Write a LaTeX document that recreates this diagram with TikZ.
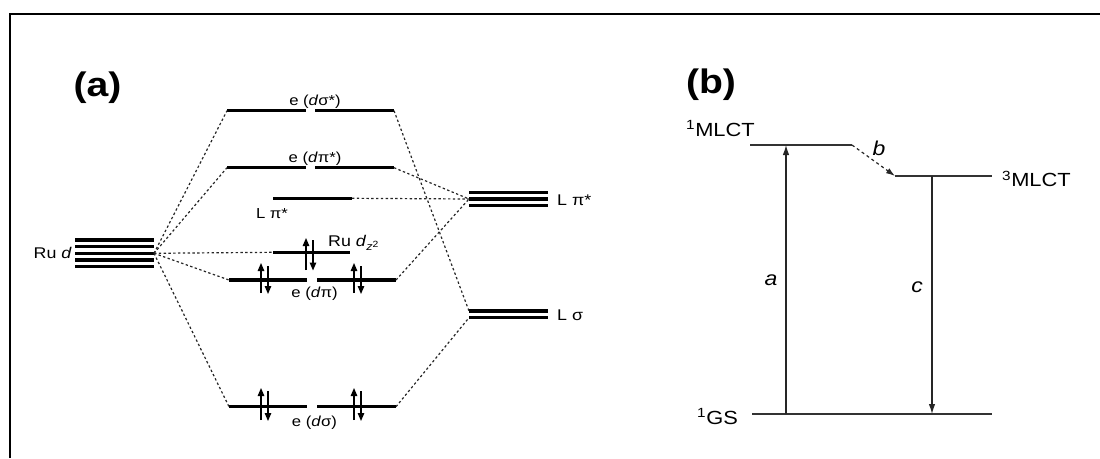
\documentclass[tikz,border=0pt]{standalone}
\usepackage{fontspec}
\setmainfont{Liberation Sans}
\usepackage{graphicx}
\usetikzlibrary{arrows.meta}
\newcommand{\hs}[1]{\scalebox{1.15}[1]{#1}}
\newcommand{\fs}[1]{\fontsize{#1}{#1}\selectfont}
\begin{document}
\begin{tikzpicture}[x=1pt,y=-1pt,
  lvl/.style={line width=3.4pt},
  conn/.style={line width=1.2pt, dash pattern=on 2.4pt off 2.4pt, black!85},
  spin/.style={line width=1.3pt, -{Triangle[length=8pt,width=6.5pt]}},
  lab/.style={inner sep=0pt, font=\fs{14.5}},
  big/.style={inner sep=0pt, font=\fs{19}},
  tlet/.style={inner sep=0pt, font=\fs{20}\itshape},
  head/.style={inner sep=0pt, font=\fs{34}\bfseries},
  bl/.style={line width=1.2pt, black!80},
  barr/.style={line width=1.2pt, black!85, -{Latex[length=10pt,width=6.5pt]}}
]
\useasboundingbox (0,0) rectangle (1100,458);
% frame
\draw[line width=2pt] (9.5,458) -- (9.5,13.5) -- (1100,13.5);

% ---------- (a) ----------
\node[head, anchor=base] (ha) at (97.5,96) {\hs{(a)}};

% Ru d levels
\foreach \yy in {240,246.7,253.3,260,266.7} \draw[line width=3.1pt] (75,\yy) -- (154,\yy);
\coordinate (rud) at (154,253.3);
\node[lab, font=\fs{15.5}, anchor=base east] (rudl) at (72,258) {\hs{Ru \textit{d}}};

% e(d sigma*)
\draw[lvl] (227,110.7) -- (306,110.7);
\draw[lvl] (315,110.7) -- (394,110.7);
\coordinate (dsA) at (227,110.7);
\coordinate (dsB) at (394,110.7);
\node[lab, anchor=base] (dsl) at (315,105) {\hs{e (\textit{d}σ*)}};

% e(d pi*)
\draw[lvl] (227,167.7) -- (306,167.7);
\draw[lvl] (315,167.7) -- (394,167.7);
\coordinate (dpsA) at (227,167.7);
\coordinate (dpsB) at (394,167.7);
\node[lab, anchor=base] (dpsl) at (315,162) {\hs{e (\textit{d}π*)}};

% L pi* (a)
\draw[lvl] (273,198.3) -- (352,198.3);
\coordinate (lpB) at (352,198.3);
\node[lab, anchor=base] (lpl) at (272,218) {\hs{L π*}};

% Ru dz2
\draw[lvl] (273,252.3) -- (350,252.3);
\coordinate (dzA) at (273,252.3);
\node[lab, font=\fs{15.5}, anchor=base west] (dzl) at (328,246.7) {\hs{Ru \textit{d}\raisebox{-3.5pt}{\fs{11}\textit{z}\raisebox{2.5pt}{\fs{9}2}}}};
\draw[spin] (306,270) -- (306,238);
\draw[spin] (313,240) -- (313,270.5);

% e(d pi)
\draw[lvl] (229,280) -- (307,280);
\draw[lvl] (317,280) -- (396,280);
\coordinate (dpA) at (229,280);
\coordinate (dpB) at (396,280);
\node[lab, anchor=base] (dpl) at (314.5,297) {\hs{e (\textit{d}π)}};
\draw[spin] (261,293) -- (261,263);
\draw[spin] (268,266) -- (268,294);
\draw[spin] (354,293) -- (354,263);
\draw[spin] (361,266) -- (361,294);

% e(d sigma)
\draw[lvl] (229,406.7) -- (307,406.7);
\draw[lvl] (317,406.7) -- (396,406.7);
\coordinate (dsgA) at (229,406.7);
\coordinate (dsgB) at (396,406.7);
\node[lab, anchor=base] (dsgl) at (314.5,426.5) {\hs{e (\textit{d}σ)}};
\draw[spin] (261,420) -- (261,388);
\draw[spin] (268,391) -- (268,421);
\draw[spin] (354,420) -- (354,388);
\draw[spin] (361,391) -- (361,421);

% L pi* (right)
\foreach \yy in {192.3,199,205.7} \draw[line width=3.5pt] (469,\yy) -- (548,\yy);
\coordinate (LP) at (469,199);
\node[lab, font=\fs{15.5}, anchor=base west] (LPl) at (557,205) {\hs{L π*}};

% L sigma
\foreach \yy in {311,317.7} \draw[line width=3.5pt] (469,\yy) -- (548,\yy);
\coordinate (LSt) at (469,311);
\coordinate (LSb) at (469,317.7);
\node[lab, font=\fs{15.5}, anchor=base west] (LSl) at (557,320.7) {\hs{L σ}};

% connectors
\draw[conn] (rud) -- (dsA);
\draw[conn] (rud) -- (dpsA);
\draw[conn] (rud) -- (dzA);
\draw[conn] (rud) -- (dpA);
\draw[conn] (rud) -- (dsgA);
\draw[conn] (dsB) -- (LSt);
\draw[conn] (dpsB) -- (LP);
\draw[conn] (lpB) -- (LP);
\draw[conn] (dpB) -- (LP);
\draw[conn] (dsgB) -- (LSb);

% ---------- (b) ----------
\node[head, anchor=base] (hb) at (711,93) {\hs{(b)}};

\coordinate (m1A) at (750,145);
\coordinate (m1B) at (852,145);
\coordinate (m3A) at (895,176);
\coordinate (m3B) at (992,176);
\coordinate (gA) at (752,414);
\coordinate (gB) at (992,414);
\draw[bl] (m1A) -- (m1B);
\draw[bl] (m3A) -- (m3B);
\draw[bl] (gA) -- (gB);
\node[big, anchor=base west] (m1l) at (686,136) {\hs{\textsuperscript{1}MLCT}};
\node[big, anchor=base west] (m3l) at (1002,186.7) {\hs{\textsuperscript{3}MLCT}};
\node[big, anchor=base west] (gl) at (697,424) {\hs{\textsuperscript{1}GS}};

\coordinate (aS) at (786,414);
\coordinate (aE) at (786,145);
\coordinate (cS) at (932,176);
\coordinate (cE) at (932,414);
\draw[barr] (aS) -- (aE);
\draw[barr] (cS) -- (cE);
\draw[line width=1.2pt, black!85, dash pattern=on 3pt off 3pt, -{Latex[length=9pt,width=6pt]}] (m1B) -- (m3A);
\node[tlet, anchor=base] (la) at (771,285) {\hs{a}};
\node[tlet, anchor=base] (lc) at (917,292.7) {\hs{c}};
\node[tlet, anchor=base] (lb) at (879,155) {\hs{b}};
\end{tikzpicture}
\end{document}
